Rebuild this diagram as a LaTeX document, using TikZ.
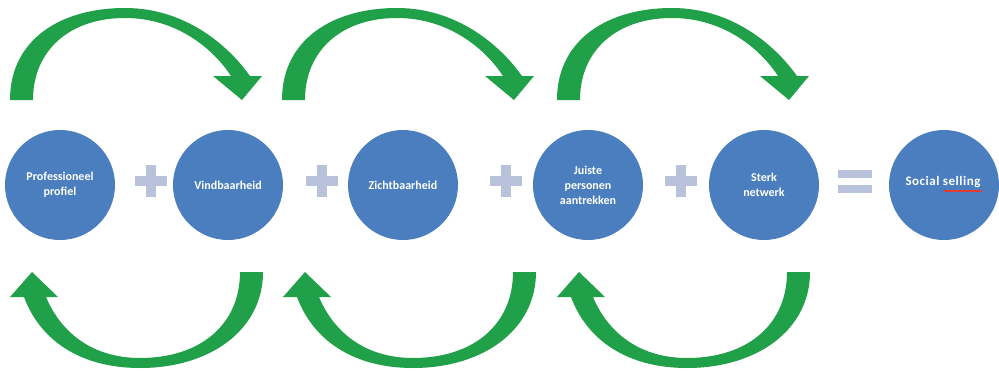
\documentclass[tikz,border=0pt]{standalone}
\usepackage{fontspec}
\setmainfont{Carlito}
\definecolor{arrowgreen}{RGB}{32,160,72}
\definecolor{circblue}{RGB}{74,126,190}
\definecolor{opgrey}{RGB}{184,194,219}
\definecolor{spellred}{RGB}{225,60,50}
\tikzset{
  bubble/.style={circle, fill=circblue, minimum size=110pt, inner sep=0pt, text=white, font=\bfseries\fontsize{12}{15}\selectfont, align=center},
  greenarrow/.style={fill=arrowgreen, draw=none},
  toparrow/.pic={
    \fill[greenarrow] (10,100) .. controls (10,40) and (60,8) .. (125,8)
      .. controls (185,8) and (228,45) .. (250,76) -- (262,76) -- (242,100) -- (213,76) -- (231,76)
      .. controls (212,47) and (175,18) .. (125,18)
      .. controls (70,18) and (33,50) .. (33,100) -- cycle;
  },
  botarrow/.pic={
    \fill[greenarrow] (263,272) .. controls (263,330) and (210,368) .. (140,368)
      .. controls (80,368) and (40,340) .. (24,297) -- (10,297) -- (32,272) -- (58,297) -- (46,297)
      .. controls (62,335) and (95,358) .. (140,358)
      .. controls (200,358) and (240,325) .. (240,272) -- cycle;
  },
  plussign/.pic={
    \fill[opgrey] (-16,-5) rectangle (16,5);
    \fill[opgrey] (-5,-16) rectangle (5,16);
  }
}
\begin{document}
\begin{tikzpicture}[x=1pt,y=-1pt]
\useasboundingbox (0,0) rectangle (999,370);
\fill[white] (0,0) rectangle (999,370);
% circles
\node[bubble] (c1) at (60,185) {Professioneel\\profiel};
\node[bubble] (c2) at (228,185) {Vindbaarheid};
\node[bubble] (c3) at (403,185) {Zichtbaarheid};
\node[bubble] (c4) at (588,185) {Juiste\\personen\\aantrekken};
\node[bubble] (c5) at (764,185) {Sterk\\netwerk};
\node[bubble] (c6) at (944,185) {};
\node[text=white, font=\bfseries\fontsize{13}{15}\selectfont\addfontfeature{LetterSpace=4}, inner sep=0pt] (t6) at (943,182) {Social selling};
% operators
\pic at (151,181) {plussign};
\pic at (322,181) {plussign};
\pic at (506,181) {plussign};
\pic at (681,181) {plussign};
\fill[opgrey] (838,170) rectangle (872,178);
\fill[opgrey] (838,185) rectangle (872,193);
% spell-check underline
\draw[spellred, line width=1.5pt] (944,191) -- (982,191);
% arrows
\pic at (0,0) {toparrow};
\pic at (272,0) {toparrow};
\pic at (547,0) {toparrow};
\pic at (0,0) {botarrow};
\pic at (273,0) {botarrow};
\pic at (547,0) {botarrow};
\end{tikzpicture}
\end{document}
